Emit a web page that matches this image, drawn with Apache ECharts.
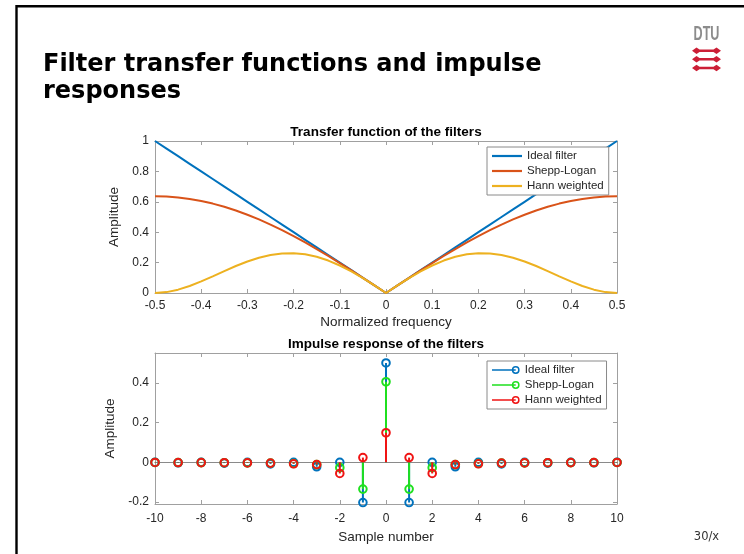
<!DOCTYPE html>
<html>
<head>
<meta charset="utf-8">
<script src="https://cdn.jsdelivr.net/npm/echarts@6/dist/echarts.min.js"></script>
<style>html,body{margin:0;padding:0;background:#fff}#c{width:744px;height:554px}</style>
</head>
<body>
<div id="c"></div>
<script>
// ---- Transfer functions (top plot) ----
const frequency = [-0.5, -0.475, -0.45, -0.425, -0.4, -0.375, -0.35, -0.325, -0.3, -0.275, -0.25, -0.225, -0.2, -0.175, -0.15, -0.125, -0.1, -0.075, -0.05, -0.025, 0,
  0.025, 0.05, 0.075, 0.1, 0.125, 0.15, 0.175, 0.2, 0.225, 0.25, 0.275, 0.3, 0.325, 0.35, 0.375, 0.4, 0.425, 0.45, 0.475, 0.5];
const idealFilter = [1, 0.95, 0.9, 0.85, 0.8, 0.75, 0.7, 0.65, 0.6, 0.55, 0.5, 0.45, 0.4, 0.35, 0.3, 0.25, 0.2, 0.15, 0.1, 0.05, 0,
  0.05, 0.1, 0.15, 0.2, 0.25, 0.3, 0.35, 0.4, 0.45, 0.5, 0.55, 0.6, 0.65, 0.7, 0.75, 0.8, 0.85, 0.9, 0.95, 1];
const sheppLogan = [0.6366, 0.6347, 0.6288, 0.619, 0.6055, 0.5882, 0.5672, 0.5428, 0.515, 0.4841, 0.4502, 0.4134, 0.3742, 0.3326, 0.289, 0.2436, 0.1967, 0.1486, 0.0996, 0.05, 0,
  0.05, 0.0996, 0.1486, 0.1967, 0.2436, 0.289, 0.3326, 0.3742, 0.4134, 0.4502, 0.4841, 0.515, 0.5428, 0.5672, 0.5882, 0.6055, 0.619, 0.6288, 0.6347, 0.6366];
const hannWeighted = [0, 0.0058, 0.022, 0.0463, 0.0764, 0.1098, 0.1443, 0.1775, 0.2073, 0.232, 0.25, 0.2602, 0.2618, 0.2545, 0.2382, 0.2134, 0.1809, 0.1418, 0.0976, 0.0497, 0,
  0.0497, 0.0976, 0.1418, 0.1809, 0.2134, 0.2382, 0.2545, 0.2618, 0.2602, 0.25, 0.232, 0.2073, 0.1775, 0.1443, 0.1098, 0.0764, 0.0463, 0.022, 0.0058, 0];

// ---- Impulse responses (bottom plot) ----
const sampleNumber = [-10, -9, -8, -7, -6, -5, -4, -3, -2, -1, 0, 1, 2, 3, 4, 5, 6, 7, 8, 9, 10];
const idealImpulse = [0, -0.0025, 0, -0.0041, 0, -0.0081, 0, -0.0225, 0, -0.2026, 0.5, -0.2026, 0, -0.0225, 0, -0.0081, 0, -0.0041, 0, -0.0025, 0];
const sheppImpulse = [-0.001, -0.0013, -0.0016, -0.0021, -0.0028, -0.0041, -0.0064, -0.0116, -0.027, -0.1351, 0.4053, -0.1351, -0.027, -0.0116, -0.0064, -0.0041, -0.0028, -0.0021, -0.0016, -0.0013, -0.001];
const hannImpulse = [-0.001, -0.0013, -0.0017, -0.0021, -0.0031, -0.0041, -0.0077, -0.0113, -0.0563, 0.0237, 0.1487, 0.0237, -0.0563, -0.0113, -0.0077, -0.0041, -0.0031, -0.0021, -0.0017, -0.0013, -0.001];
const bottomAmplitudeTicks = [-0.2, 0, 0.2, 0.4];

const seriesNames = ['Ideal filter', 'Shepp-Logan', 'Hann weighted'];
const lineColors = ['#0072BD', '#D95319', '#EDB120'];
const stemColors = ['#0072BD', '#1fe01f', '#f01414'];

const FONT = '"Liberation Sans", Arial, Helvetica, sans-serif';
const AX = '#a0a0a0';
const TXT = '#262626';
const pairs = (xs, ys) => xs.map((x, i) => [x, ys[i]]);

function baseAxis(extra) {
  return Object.assign({
    type: 'value',
    axisLine: { show: true, onZero: false, lineStyle: { color: AX, width: 1 } },
    axisTick: { show: true, inside: true, length: 4, lineStyle: { color: AX } },
    splitLine: { show: false },
    axisLabel: { color: TXT, fontFamily: FONT, fontSize: 12 },
    nameTextStyle: { color: TXT, fontFamily: FONT, fontSize: 13.5 }
  }, extra);
}

function stemSeries(i) {
  const color = stemColors[i];
  const s = {
    type: 'custom',
    name: seriesNames[i],
    xAxisIndex: 2,
    yAxisIndex: 2,
    z: 3 + i,
    itemStyle: { color: color },
    data: pairs(sampleNumber, [idealImpulse, sheppImpulse, hannImpulse][i]),
    renderItem: function (params, api) {
      const x = api.value(0), y = api.value(1);
      const p0 = api.coord([x, 0]);
      const p1 = api.coord([x, y]);
      return {
        type: 'group',
        children: [
          { type: 'line', shape: { x1: p0[0], y1: p0[1], x2: p1[0], y2: p1[1] }, style: { stroke: color, lineWidth: 2 } },
          { type: 'circle', shape: { cx: p1[0], cy: p1[1], r: 3.8 }, style: { stroke: color, fill: 'none', lineWidth: 2 } }
        ]
      };
    }
  };
  if (i === 0) {
    s.markLine = {
      silent: true, symbol: ['none', 'none'], label: { show: false },
      lineStyle: { color: '#8a8a8a', width: 1, type: 'solid' },
      data: [{ yAxis: 0 }], z: 1, animation: false
    };
  }
  return s;
}

const stemIcon = 'path://M0 3.2 L22.5 3.2 L22.5 4.8 L0 4.8 Z M18.8 4 A3.7 3.7 0 1 1 26.2 4 A3.7 3.7 0 1 1 18.8 4 Z M20.2 4 A2.3 2.3 0 1 0 24.8 4 A2.3 2.3 0 1 0 20.2 4 Z';

const legendCommon = {
  orient: 'vertical',
  left: 487,
  backgroundColor: '#ffffff',
  borderColor: '#8a8a8a',
  borderWidth: 1,
  borderRadius: 0,
  padding: [3, 5, 3, 5],
  itemGap: 3,
  selectedMode: false,
  textStyle: { color: TXT, fontFamily: FONT, fontSize: 11.5 }
};

const option = {
  animation: false,
  backgroundColor: '#ffffff',
  grid: [
    { left: 155, top: 141, width: 462, height: 152 },
    { left: 155, top: 353, width: 462, height: 151 }
  ],
  xAxis: [
    baseAxis({ gridIndex: 0, position: 'bottom', min: -0.5, max: 0.5, interval: 0.1,
      name: 'Normalized frequency', nameLocation: 'middle', nameGap: 22,
      axisLabel: { color: TXT, fontFamily: FONT, fontSize: 12, margin: 7 } }),
    baseAxis({ gridIndex: 0, position: 'top', min: -0.5, max: 0.5, interval: 0.1, axisLabel: { show: false } }),
    baseAxis({ gridIndex: 1, position: 'bottom', min: -10, max: 10, interval: 2,
      name: 'Sample number', nameLocation: 'middle', nameGap: 26,
      axisLabel: { color: TXT, fontFamily: FONT, fontSize: 12, margin: 9 } }),
    baseAxis({ gridIndex: 1, position: 'top', min: -10, max: 10, interval: 2, axisLabel: { show: false } })
  ],
  yAxis: [
    baseAxis({ gridIndex: 0, position: 'left', min: 0, max: 1, interval: 0.2,
      name: 'Amplitude', nameLocation: 'middle', nameGap: 27, nameRotate: 90,
      axisLabel: { color: TXT, fontFamily: FONT, fontSize: 12, margin: 6 } }),
    baseAxis({ gridIndex: 0, position: 'right', min: 0, max: 1, interval: 0.2, axisLabel: { show: false } }),
    baseAxis({ gridIndex: 1, position: 'left', min: -0.21, max: 0.55,
      name: 'Amplitude', nameLocation: 'middle', nameGap: 31, nameRotate: 90,
      axisLabel: { color: TXT, fontFamily: FONT, fontSize: 12, margin: 6, customValues: bottomAmplitudeTicks },
      axisTick: { show: true, inside: true, length: 4, lineStyle: { color: AX }, customValues: bottomAmplitudeTicks } }),
    baseAxis({ gridIndex: 1, position: 'right', min: -0.21, max: 0.55, axisLabel: { show: false },
      axisTick: { show: true, inside: true, length: 4, lineStyle: { color: AX }, customValues: bottomAmplitudeTicks } })
  ],
  legend: [
    Object.assign({}, legendCommon, {
      top: 147,
      itemWidth: 30, itemHeight: 2.2,
      data: seriesNames.map(n => ({ name: n, icon: 'rect' }))
    }),
    Object.assign({}, legendCommon, {
      top: 361,
      itemWidth: 28, itemHeight: 7.8,
      data: seriesNames.map((n, i) => ({ name: n, icon: stemIcon, itemStyle: { color: stemColors[i], borderWidth: 0 } }))
    })
  ],
  series: [
    ...seriesNames.map((n, i) => ({
      type: 'line', name: n, xAxisIndex: 0, yAxisIndex: 0,
      data: pairs(frequency, [idealFilter, sheppLogan, hannWeighted][i]),
      showSymbol: false, symbol: 'none', smooth: false,
      lineStyle: { color: lineColors[i], width: 2 },
      itemStyle: { color: lineColors[i] },
      z: 3 + i
    })),
    stemSeries(0), stemSeries(1), stemSeries(2)
  ],
  graphic: [
    { type: 'rect', shape: { x: 16.5, y: 6.2, width: 900, height: 700 }, style: { stroke: '#000', lineWidth: 2.4, fill: 'none' }, silent: true },
    { type: 'text', x: 43, y: 65, style: { text: 'Filter transfer functions and impulse', font: 'bold 24px "DejaVu Sans", sans-serif', fill: '#000', textAlign: 'left', textVerticalAlign: 'middle' } },
    { type: 'text', x: 43, y: 92, style: { text: 'responses', font: 'bold 24px "DejaVu Sans", sans-serif', fill: '#000', textAlign: 'left', textVerticalAlign: 'middle' } },
    { type: 'text', x: 386, y: 132, style: { text: 'Transfer function of the filters', font: 'bold 13.5px "Liberation Sans", Arial, sans-serif', fill: '#000', textAlign: 'center', textVerticalAlign: 'middle' } },
    { type: 'text', x: 386, y: 344, style: { text: 'Impulse response of the filters', font: 'bold 13.5px "Liberation Sans", Arial, sans-serif', fill: '#000', textAlign: 'center', textVerticalAlign: 'middle' } },
    { type: 'text', x: 706.5, y: 34.7, scaleX: 0.6, style: { text: 'DTU', font: 'bold 21px "Liberation Sans", Arial, sans-serif', fill: '#8c8c8c', textAlign: 'center', textVerticalAlign: 'middle' } },
    { type: 'polygon', x: 706.5, y: 50.7, shape: { points: [[-14.5, 0], [-10, -3.2], [-7, -1.3], [7, -1.3], [10, -3.2], [14.5, 0], [10, 3.2], [7, 1.3], [-7, 1.3], [-10, 3.2]] }, style: { fill: '#cc1f36' } },
    { type: 'polygon', x: 706.5, y: 59.3, shape: { points: [[-14.5, 0], [-10, -3.2], [-7, -1.3], [7, -1.3], [10, -3.2], [14.5, 0], [10, 3.2], [7, 1.3], [-7, 1.3], [-10, 3.2]] }, style: { fill: '#cc1f36' } },
    { type: 'polygon', x: 706.5, y: 68, shape: { points: [[-14.5, 0], [-10, -3.2], [-7, -1.3], [7, -1.3], [10, -3.2], [14.5, 0], [10, 3.2], [7, 1.3], [-7, 1.3], [-10, 3.2]] }, style: { fill: '#cc1f36' } },
    { type: 'text', x: 706.5, y: 537, style: { text: '30/x', font: '11.5px "DejaVu Sans", sans-serif', fill: '#333', textAlign: 'center', textVerticalAlign: 'middle' } }
  ]
};

const chart = echarts.init(document.getElementById('c'), null, { renderer: 'canvas' });
chart.setOption(option);
</script>
</body>
</html>
